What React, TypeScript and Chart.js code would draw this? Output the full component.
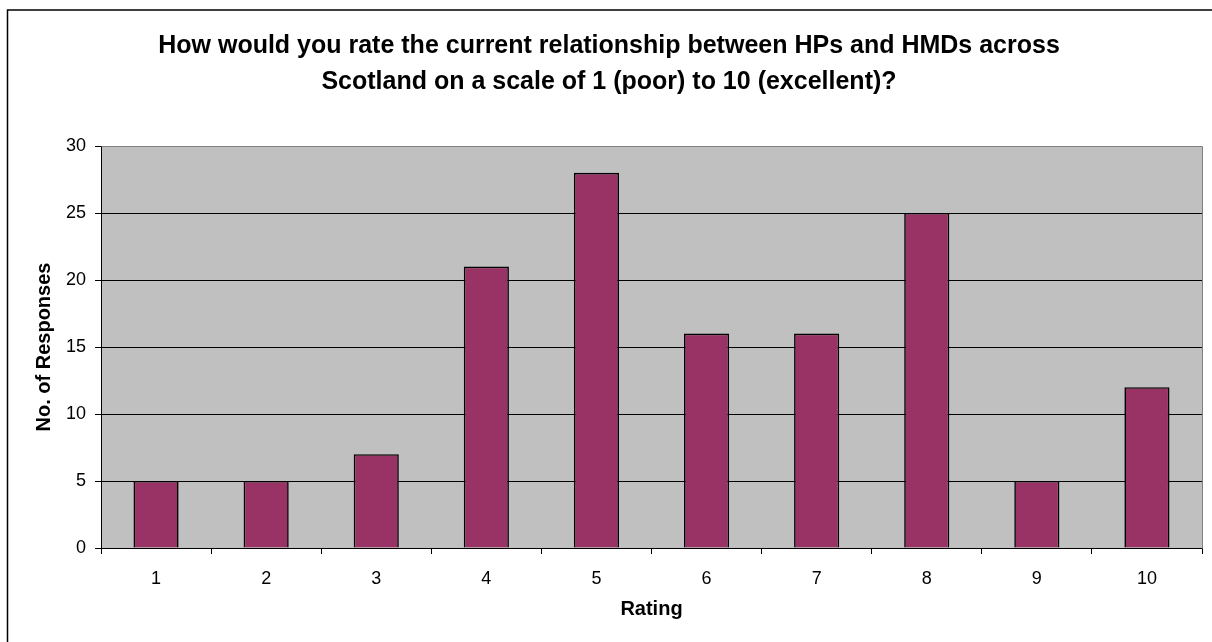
import React, { useEffect, useRef } from "react";
import { Chart, registerables } from "chart.js";

Chart.register(...registerables);

// Survey results: number of responses per rating
const ratings: string[] = ["1", "2", "3", "4", "5", "6", "7", "8", "9", "10"];
const responses: number[] = [5, 5, 7, 21, 28, 16, 16, 25, 5, 12];
const yTicks: number[] = [0, 5, 10, 15, 20, 25, 30];

const titleLines: string[] = [
  "How would you rate the current relationship between HPs and HMDs across",
  "Scotland on a scale of 1 (poor) to 10 (excellent)?",
];
const xTitle = "Rating";
const yTitle = "No. of Responses";

const FONT = "'Liberation Sans', Arial, Helvetica, sans-serif";

// Grey plot background, plot frame and outer chart border
const framePlugin = {
  id: "frame",
  beforeDraw(chart: any) {
    const { ctx, chartArea: a } = chart;
    ctx.save();
    ctx.fillStyle = "#C0C0C0";
    ctx.fillRect(a.left, a.top, a.right - a.left, a.bottom - a.top);
    ctx.restore();
  },
  afterDraw(chart: any) {
    const { ctx, chartArea: a } = chart;
    ctx.save();
    ctx.strokeStyle = "#808080";
    ctx.lineWidth = 1;
    ctx.beginPath();
    ctx.moveTo(Math.round(a.left) + 0.5, Math.round(a.top) + 0.5);
    ctx.lineTo(Math.round(a.right) + 0.5, Math.round(a.top) + 0.5);
    ctx.lineTo(Math.round(a.right) + 0.5, Math.round(a.bottom) + 0.5);
    ctx.stroke();
    ctx.strokeStyle = "#000000";
    ctx.lineWidth = 1.5;
    ctx.strokeRect(7.5, 10, 1400, 800);
    ctx.restore();
  },
};

export default function App() {
  const canvasRef = useRef<HTMLCanvasElement | null>(null);

  useEffect(() => {
    const canvas = canvasRef.current;
    if (!canvas) return;
    const chart = new Chart(canvas, {
      type: "bar",
      data: {
        labels: ratings,
        datasets: [
          {
            data: responses,
            backgroundColor: "#993366",
            borderColor: "#000000",
            borderWidth: 1.6,
            categoryPercentage: 1,
            barPercentage: 0.41,
          },
        ],
      },
      options: {
        responsive: false,
        animation: false,
        devicePixelRatio: 1,
        layout: { padding: { left: 16, right: 10, top: 0, bottom: 0 } },
        plugins: {
          legend: { display: false },
          tooltip: { enabled: false },
          title: {
            display: true,
            text: titleLines,
            color: "#000000",
            font: { family: FONT, size: 25, weight: "bold", lineHeight: 1.44 },
            padding: { top: 28, bottom: 46 },
          },
        },
        scales: {
          x: {
            grid: {
              display: true,
              drawOnChartArea: false,
              drawTicks: true,
              tickLength: 6,
              tickColor: "#000000",
              offset: true,
            },
            border: { display: true, color: "#000000", width: 1 },
            ticks: {
              color: "#000000",
              font: { family: FONT, size: 18 },
              padding: 14,
              maxRotation: 0,
            },
            title: {
              display: true,
              text: xTitle,
              color: "#000000",
              font: { family: FONT, size: 20, weight: "bold" },
              padding: { top: 0, bottom: 21 },
            },
            afterFit(scale: any) {
              scale.height = 94;
            },
          },
          y: {
            min: 0,
            max: 30,
            afterBuildTicks(scale: any) {
              scale.ticks = yTicks.map((v) => ({ value: v }));
            },
            grid: {
              color: (c: any) => (c.tick && c.tick.value === 30 ? "#808080" : "#000000"),
              tickColor: "#000000",
              drawTicks: true,
              tickLength: 6,
              lineWidth: 1,
            },
            border: { display: true, color: "#000000", width: 1 },
            ticks: {
              color: "#000000",
              font: { family: FONT, size: 18 },
              padding: 9,
            },
            title: {
              display: true,
              text: yTitle,
              color: "#000000",
              font: { family: FONT, size: 20, weight: "bold" },
              padding: { top: 16, bottom: 0 },
            },
            afterFit(scale: any) {
              scale.width = 85;
            },
          },
        },
      },
      plugins: [framePlugin],
    });
    return () => chart.destroy();
  }, []);

  return (
    <div style={{ position: "absolute", left: 0, top: 0, width: 1212, height: 642, background: "#ffffff" }}>
      <canvas ref={canvasRef} width={1212} height={642} style={{ display: "block" }} />
    </div>
  );
}
